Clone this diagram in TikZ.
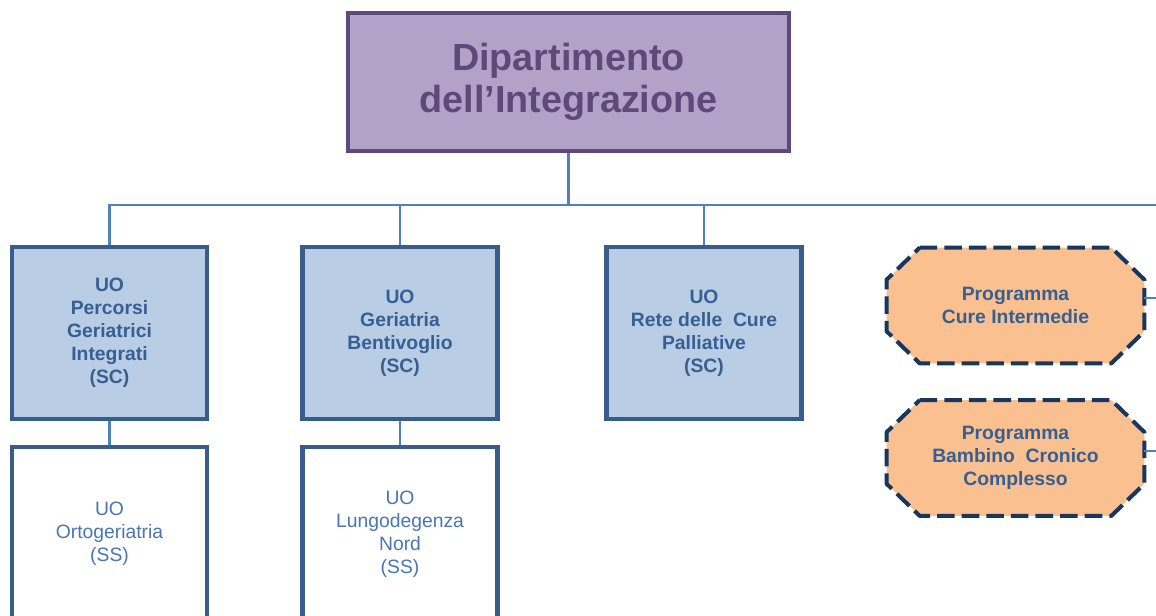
\documentclass[tikz,border=0pt]{standalone}
\usepackage{fontspec}
\setmainfont{Liberation Sans}
\usetikzlibrary{backgrounds}
\definecolor{viola}{HTML}{B3A2C7}
\definecolor{violascuro}{HTML}{5F497A}
\definecolor{azzurro}{HTML}{B9CDE5}
\definecolor{bluscuro}{HTML}{385D8A}
\definecolor{blutesto}{HTML}{376092}
\definecolor{blulinea}{HTML}{4F81BD}
\definecolor{blusemplice}{HTML}{4A76B0}
\definecolor{arancio}{HTML}{FAC090}
\definecolor{navy}{HTML}{17375E}
\tikzset{
  dipbox/.style={draw=violascuro, fill=viola, line width=2.3pt, text=violascuro,
    minimum width=8.82cm, minimum height=2.76cm, align=center,
    font=\fontsize{21.5}{23.9}\selectfont\bfseries},
  scbox/.style={draw=bluscuro, fill=azzurro, line width=2.3pt, text=blutesto,
    minimum width=3.9cm, minimum height=3.44cm, align=center,
    font=\fontsize{11}{13.1}\selectfont\bfseries},
  ssbox/.style={draw=bluscuro, fill=white, line width=2.3pt, text=blusemplice,
    minimum width=3.9cm, minimum height=3.48cm, align=center,
    font=\fontsize{11}{13.1}\selectfont},
  progbox/.style={text=blutesto, inner sep=0pt,
    minimum width=5.14cm, minimum height=2.3cm, align=center,
    font=\fontsize{11}{13.1}\selectfont\bfseries},
  progline/.style={draw=navy, fill=arancio, line width=2.3pt,
    dash pattern=on 10pt off 4pt, line join=round},
  conn/.style={draw=blulinea, line width=1.4pt}
}
\newcommand{\ottagono}[1]{%
  \path[progline] ([xshift=0.66cm]#1.north west) -- ([xshift=-0.66cm]#1.north east)
    -- ([yshift=-0.64cm]#1.north east) -- ([yshift=0.64cm]#1.south east)
    -- ([xshift=-0.66cm]#1.south east) -- ([xshift=0.66cm]#1.south west)
    -- ([yshift=0.64cm]#1.south west) -- ([yshift=-0.64cm]#1.north west) -- cycle;}
\begin{document}
\begin{tikzpicture}[x=0.2mm, y=-0.2mm]
\clip (0,0) rectangle (1156,616);
% dipartimento
\node[dipbox] (dip) at (568.5,82) {Dipartimento\\dell’Integrazione};
% strutture complesse
\node[scbox] (uo1) at (109.5,333) {UO\\Percorsi\\Geriatrici\\Integrati\\(SC)};
\node[scbox] (uo2) at (400,333) {UO\\Geriatria\\Bentivoglio\\(SC)};
\node[scbox] (uo3) at (704,333) {UO\\Rete delle \ Cure\\Palliative\\(SC)};
% strutture semplici
\node[ssbox] (orto) at (109.5,534) {UO\\Ortogeriatria\\(SS)};
\node[ssbox] (lungo) at (400,534) {UO\\Lungodegenza\\Nord\\(SS)};
% programmi
\node[progbox] (prog1) at (1015.5,305.5) {Programma\\Cure Intermedie};
\node[progbox] (prog2) at (1015.5,458) {Programma\\Bambino \ Cronico\\Complesso};
\begin{scope}[on background layer]
\ottagono{prog1}
\ottagono{prog2}
\end{scope}
% collegamenti
\coordinate (fine) at (1160,205);
\draw[conn] (uo1.north) |- (fine);
\draw[conn] (dip.south) -- (dip.south |- fine);
\draw[conn] (uo2.north) -- (uo2.north |- fine);
\draw[conn] (uo3.north) -- (uo3.north |- fine);
\draw[conn] (uo1.south) -- (orto.north);
\draw[conn] (uo2.south) -- (lungo.north);
\coordinate (dx1) at (1160,298);
\coordinate (dx2) at (1160,451);
\draw[conn] (prog1.east |- dx1) -- (dx1);
\draw[conn] (prog2.east |- dx2) -- (dx2);
\end{tikzpicture}
\end{document}
